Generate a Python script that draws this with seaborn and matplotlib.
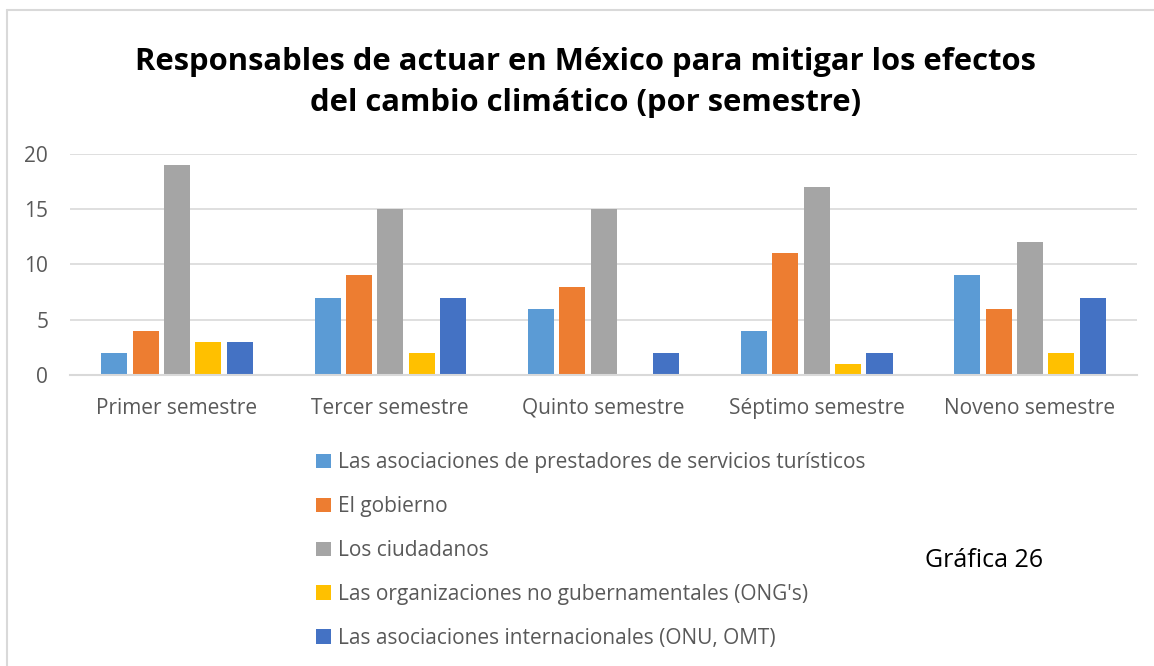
import pandas as pd
import matplotlib.pyplot as plt
import seaborn as sns
from matplotlib.lines import Line2D

# Datos
semestres = ['Primer semestre', 'Tercer semestre', 'Quinto semestre', 'Séptimo semestre', 'Noveno semestre']
responsables = [
    'Las asociaciones de prestadores de servicios turísticos',
    'El gobierno',
    'Los ciudadanos',
    "Las organizaciones no gubernamentales (ONG's)",
    'Las asociaciones internacionales (ONU, OMT)',
]
asociaciones_turismo = [2, 7, 6, 4, 9]
gobierno = [4, 9, 8, 11, 6]
ciudadanos = [19, 15, 15, 17, 12]
ongs = [3, 2, 0, 1, 2]
internacionales = [3, 7, 2, 2, 7]
colores = ['#5B9BD5', '#ED7D31', '#A5A5A5', '#FFC000', '#4472C4']

series = [asociaciones_turismo, gobierno, ciudadanos, ongs, internacionales]
df = pd.DataFrame({
    'semestre': semestres * len(responsables),
    'responsable': [r for r in responsables for _ in semestres],
    'valor': [v for s in series for v in s],
})

sns.set_theme(style='white')
plt.rcParams['font.family'] = ['Open Sans', 'DejaVu Sans']

fig = plt.figure(figsize=(11.54, 6.66), dpi=100)
ax = fig.add_axes([0.061, 0.437, 0.924, 0.332])

sns.barplot(data=df, x='semestre', y='valor', hue='responsable', order=semestres,
            hue_order=responsables, palette=colores, saturation=1, width=0.735, gap=0.17,
            linewidth=0, ax=ax, legend=True)

ax.set_ylim(0, 20)
ax.set_yticks([0, 5, 10, 15, 20])
ax.set_xlim(-0.5, len(semestres) - 0.5)
ax.set_xlabel('')
ax.set_ylabel('')
ax.yaxis.grid(True, color='#D9D9D9', linewidth=1.2)
ax.set_axisbelow(True)
for lado in ['top', 'right', 'left']:
    ax.spines[lado].set_visible(False)
ax.spines['bottom'].set_color('#D9D9D9')
ax.spines['bottom'].set_linewidth(1.5)
ax.tick_params(axis='both', length=0, labelsize=15, colors='#595959')
ax.tick_params(axis='x', pad=16.5)
ax.tick_params(axis='y', pad=16)

handles, labels = ax.get_legend_handles_labels()
ax.get_legend().remove()
leg = fig.legend(handles, labels, loc='upper left', bbox_to_anchor=(0.258, 0.349),
                 frameon=False, fontsize=15, labelspacing=1.1, handlelength=0.7,
                 handleheight=0.7, handletextpad=0.35)
for t in leg.get_texts():
    t.set_color('#595959')

fig.text(0.507, 0.876,
         'Responsables de actuar en México para mitigar los efectos\ndel cambio climático (por semestre)',
         ha='center', va='center', fontsize=22.3, fontweight='bold', color='black',
         linespacing=1.5)
fig.text(0.853, 0.159, 'Gráfica 26', ha='center', va='center', fontsize=18, color='black')

# marco del gráfico
fig.add_artist(Line2D([7 / 1154, 7 / 1154], [0, 1 - 10 / 666], color='#D9D9D9', linewidth=1.5))
fig.add_artist(Line2D([7 / 1154, 1], [1 - 10 / 666, 1 - 10 / 666], color='#D9D9D9', linewidth=1.5))

fig.savefig('out.png', dpi=100)
